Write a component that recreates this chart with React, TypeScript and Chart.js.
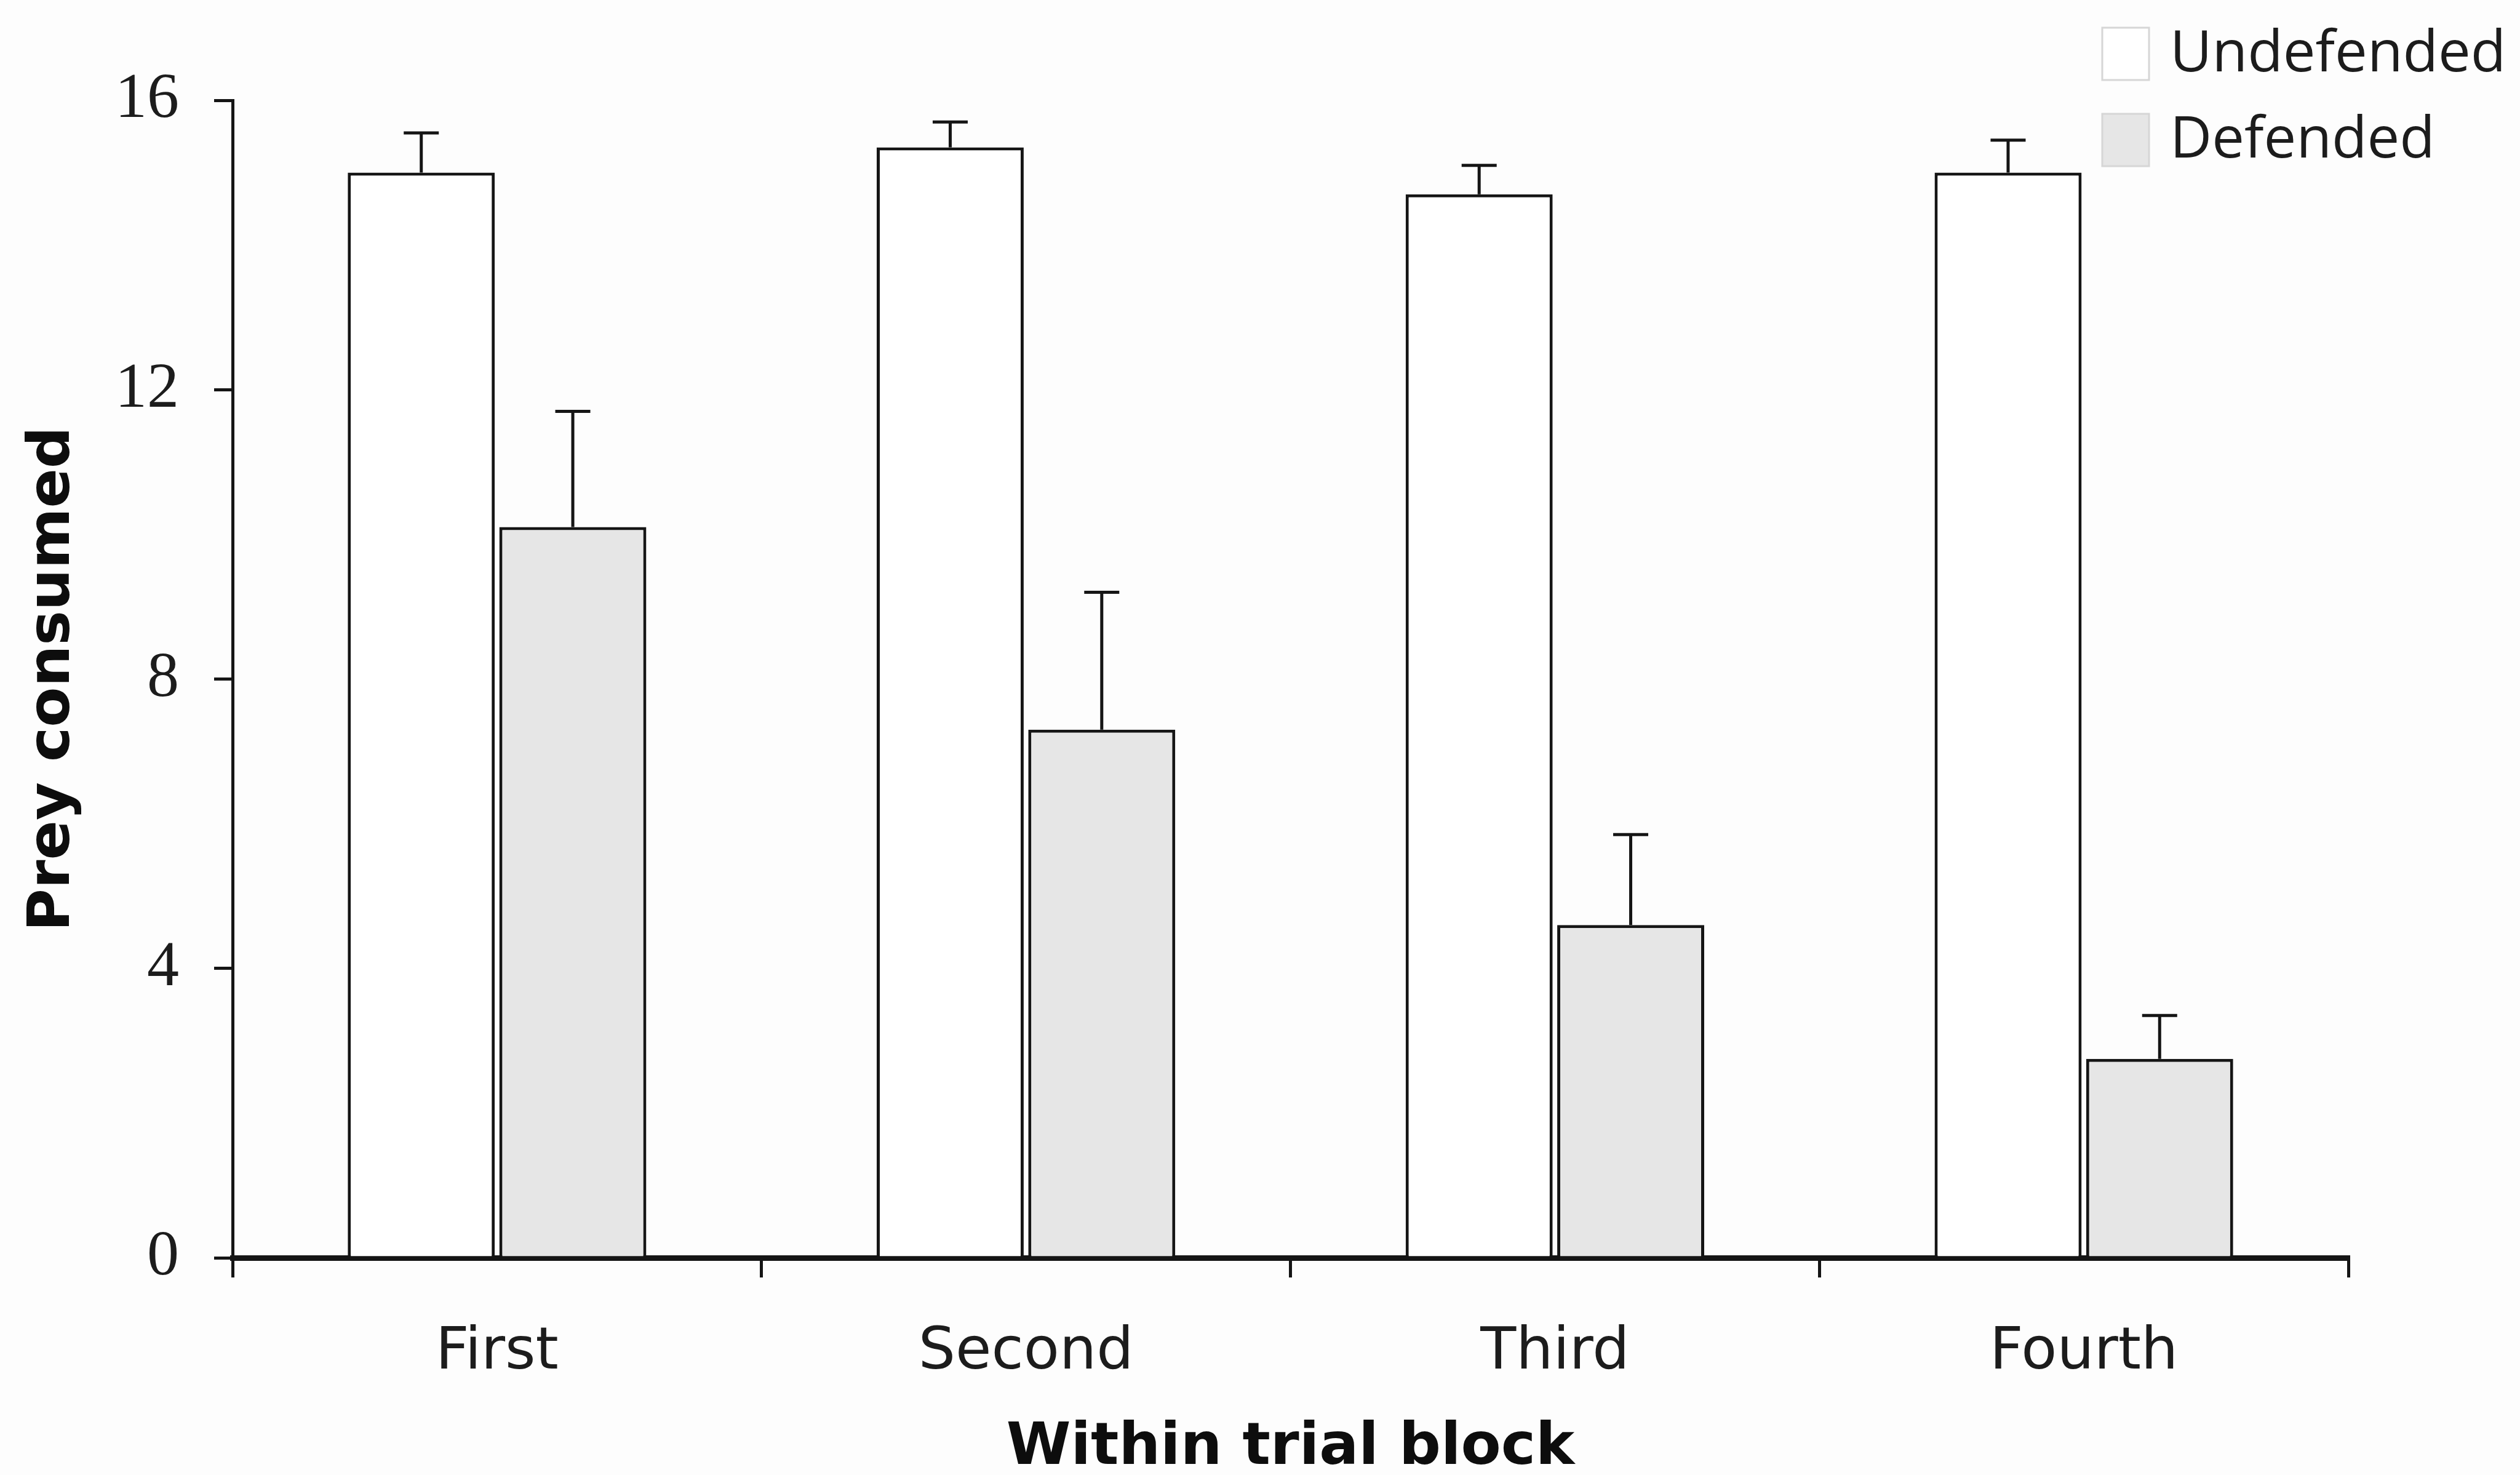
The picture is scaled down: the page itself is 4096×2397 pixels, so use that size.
import { useEffect, useRef } from "react";
import { Chart, registerables } from "chart.js";

Chart.register(...registerables);

// Trial blocks along the x axis
const blocks = ["First", "Second", "Third", "Fourth"];

// Mean prey consumed per block, with the standard error drawn above each bar
const undefendedMeans = [15.0, 15.35, 14.7, 15.0];
const undefendedSE = [0.55, 0.35, 0.4, 0.45];
const defendedMeans = [10.1, 7.3, 4.6, 2.75];
const defendedSE = [1.6, 1.9, 1.25, 0.6];

// Y axis tick values
const yTicks = [0, 4, 8, 12, 16];

const seriesNames = ["Undefended", "Defended"];
const seriesFill = ["#ffffff", "#e6e6e6"];
const seriesSE = [undefendedSE, defendedSE];

const INK = "#151515";
const W = 4096;
const H = 2397;

// Paints the page background behind everything
const backgroundPlugin = {
  id: "pageBackground",
  beforeDraw(chart: any) {
    const { ctx } = chart;
    ctx.save();
    ctx.fillStyle = "#fdfdfd";
    ctx.fillRect(0, 0, chart.width, chart.height);
    ctx.restore();
  },
};

// Upper-only error bars with a flat cap
const errorBarPlugin = {
  id: "upperErrorBars",
  afterDatasetsDraw(chart: any) {
    const { ctx } = chart;
    const yScale = chart.scales.y;
    const capHalf = 28.5;
    ctx.save();
    ctx.strokeStyle = INK;
    ctx.lineWidth = 5;
    chart.data.datasets.forEach((ds: any, di: number) => {
      const meta = chart.getDatasetMeta(di);
      const errs = seriesSE[di];
      meta.data.forEach((bar: any, i: number) => {
        const top = yScale.getPixelForValue(ds.data[i] + errs[i]);
        ctx.beginPath();
        ctx.moveTo(bar.x, bar.y);
        ctx.lineTo(bar.x, top);
        ctx.moveTo(bar.x - capHalf, top);
        ctx.lineTo(bar.x + capHalf, top);
        ctx.stroke();
      });
    });
    ctx.restore();
  },
};

// Legend stacked in the top right corner
const cornerLegendPlugin = {
  id: "cornerLegend",
  afterDraw(chart: any) {
    const { ctx } = chart;
    const boxX = 3417;
    const boxW = 76;
    const boxH = 85;
    const firstTop = 45;
    const rowGap = 140;
    ctx.save();
    ctx.font = '94px "Open Sans"';
    ctx.textBaseline = "middle";
    ctx.textAlign = "left";
    chart.data.datasets.forEach((ds: any, i: number) => {
      const top = firstTop + i * rowGap;
      ctx.fillStyle = ds.backgroundColor;
      ctx.fillRect(boxX, top, boxW, boxH);
      ctx.strokeStyle = "#d6d6d6";
      ctx.lineWidth = 3;
      ctx.strokeRect(boxX, top, boxW, boxH);
      ctx.fillStyle = "#1c1c1c";
      ctx.fillText(ds.label, boxX + boxW + 34, top + boxH / 2 + 2);
    });
    ctx.restore();
  },
};

export default function App() {
  const canvasRef = useRef<HTMLCanvasElement | null>(null);

  useEffect(() => {
    let chart: Chart | null = null;
    let cancelled = false;

    const build = () => {
      if (cancelled || !canvasRef.current) return;
      chart = new Chart(canvasRef.current, {
        type: "bar",
        data: {
          labels: blocks,
          datasets: [
            {
              label: seriesNames[0],
              data: undefendedMeans,
              backgroundColor: seriesFill[0],
              borderColor: INK,
              borderWidth: 5,
              borderSkipped: "bottom",
              categoryPercentage: 0.573,
              barPercentage: 0.97,
            },
            {
              label: seriesNames[1],
              data: defendedMeans,
              backgroundColor: seriesFill[1],
              borderColor: INK,
              borderWidth: 5,
              borderSkipped: "bottom",
              categoryPercentage: 0.573,
              barPercentage: 0.97,
            },
          ],
        },
        options: {
          responsive: false,
          animation: false,
          devicePixelRatio: 1,
          events: [],
          layout: { padding: { top: 163, right: 279, bottom: 0, left: 0 } },
          plugins: {
            legend: { display: false },
            tooltip: { enabled: false },
          },
          scales: {
            x: {
              offset: true,
              grid: {
                display: true,
                offset: true,
                drawOnChartArea: false,
                drawTicks: true,
                tickLength: 32,
                color: INK,
                lineWidth: 5,
              },
              border: { display: true, color: INK, width: 9 },
              ticks: {
                color: "#1c1c1c",
                font: { family: '"DejaVu Sans"', size: 95 },
                padding: 66,
                maxRotation: 0,
                autoSkip: false,
              },
              title: {
                display: true,
                text: "Within trial block",
                color: "#0d0d0d",
                font: { family: '"DejaVu Sans"', size: 95, weight: "bold", lineHeight: 0.9 },
                padding: { top: 0, bottom: 0 },
              },
              afterFit: (s: any) => {
                s.height = H - 2044;
              },
            },
            y: {
              min: 0,
              max: 16,
              afterBuildTicks: (s: any) => {
                s.ticks = yTicks.map((v) => ({ value: v }));
              },
              grid: {
                display: true,
                drawOnChartArea: false,
                drawTicks: true,
                tickLength: 30,
                color: INK,
                lineWidth: 5,
              },
              border: { display: true, color: INK, width: 5 },
              ticks: {
                color: "#1c1c1c",
                font: { family: '"Liberation Serif"', size: 104 },
                padding: 57,
              },
              title: {
                display: true,
                text: "Prey consumed",
                color: "#0d0d0d",
                font: { family: '"DejaVu Sans"', size: 95, weight: "bold" },
                padding: { top: 30, bottom: 0 },
              },
              afterFit: (s: any) => {
                s.width = 378;
              },
            },
          },
        },
        plugins: [backgroundPlugin, errorBarPlugin, cornerLegendPlugin],
      } as any);
    };

    const fonts = [
      '95px "DejaVu Sans"',
      'bold 95px "DejaVu Sans"',
      '104px "Liberation Serif"',
      '94px "Open Sans"',
    ];
    Promise.all(fonts.map((f) => document.fonts.load(f).catch(() => null)))
      .then(build, build);

    return () => {
      cancelled = true;
      if (chart) chart.destroy();
    };
  }, []);

  return (
    <div style={{ position: "fixed", left: 0, top: 0, width: W, height: H, background: "#fdfdfd" }}>
      <canvas ref={canvasRef} width={W} height={H} style={{ display: "block", width: W, height: H }} />
    </div>
  );
}
